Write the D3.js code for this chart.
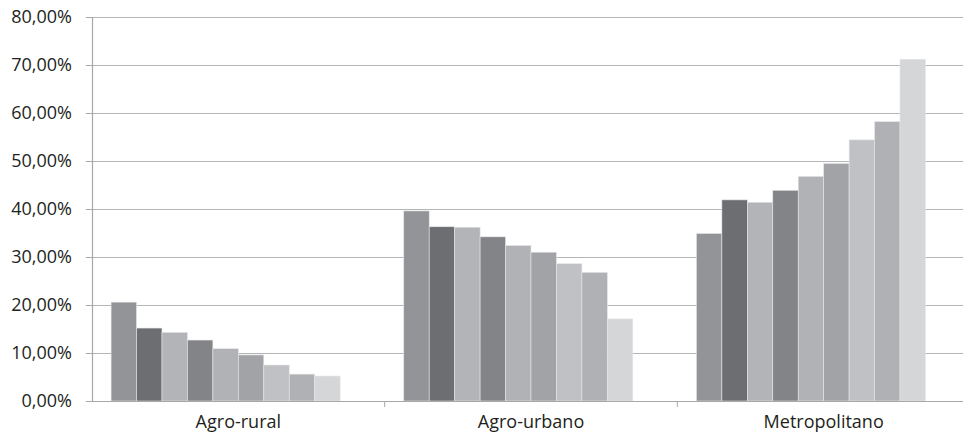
<!DOCTYPE html>
<html>
<head>
<meta charset="utf-8">
<script src="https://cdn.jsdelivr.net/npm/d3@7"></script>
<style>
  body { margin: 0; background: #fff; }
  svg text { font-family: "Open Sans", "Noto Sans", sans-serif; fill: #231f20; }
</style>
</head>
<body>
<div id="chart"></div>
<script>
const width = 963;
const height = 438;
const margins = {top: 17, right: -7, bottom: 37, left: 92};

// categories on the x axis
const categories = ['Agro-rural', 'Agro-urbano', 'Metropolitano'];
// 10 series slots per group (the last one is empty in the source)
const seriesKeys = ['s1', 's2', 's3', 's4', 's5', 's6', 's7', 's8', 's9', 's10'];
const seriesColors = ['#939498', '#6d6e71', '#b3b4b7', '#838487', '#b1b2b5',
                      '#a2a3a6', '#c0c1c4', '#b0b1b4', '#d5d6d8', '#e0e0e0'];

// values in percent, one array per category
const agroRural     = [20.6, 15.2, 14.3, 12.7, 10.9, 9.6, 7.5, 5.6, 5.2, null];
const agroUrbano    = [39.6, 36.3, 36.2, 34.2, 32.4, 31.0, 28.6, 26.8, 17.1, null];
const metropolitano = [34.9, 41.9, 41.4, 43.9, 46.8, 49.5, 54.4, 58.2, 71.2, null];
const groupValues = [agroRural, agroUrbano, metropolitano];

const yTicks = [0, 10, 20, 30, 40, 50, 60, 70, 80];

const graphWidth = width - margins.left - margins.right;
const graphHeight = height - margins.top - margins.bottom;

const svg = d3.select('#chart')
  .append('svg')
  .attr('width', width)
  .attr('height', height);

const g = svg.append('g')
  .attr('transform', `translate(${margins.left}, ${margins.top})`);

const x0 = d3.scaleBand()
  .domain(categories)
  .range([0, graphWidth]);

const x1 = d3.scaleBand()
  .domain(seriesKeys)
  .range([0, x0.bandwidth()])
  .paddingOuter(0.75);

const y = d3.scaleLinear()
  .domain([0, 80])
  .range([graphHeight, 0]);

// gridlines
g.append('g')
  .selectAll('line')
  .data(yTicks)
  .enter()
  .append('line')
  .attr('x1', 0)
  .attr('x2', graphWidth)
  .attr('y1', d => Math.round(y(d)) + 0.5)
  .attr('y2', d => Math.round(y(d)) + 0.5)
  .attr('stroke', '#b5b5b7')
  .attr('stroke-width', 1.2);

// bars
const groups = g.append('g')
  .selectAll('g')
  .data(categories)
  .enter()
  .append('g')
  .attr('transform', d => `translate(${x0(d)}, 0)`);

groups.selectAll('rect')
  .data((d, i) => groupValues[i].map((v, j) => ({key: seriesKeys[j], value: v, color: seriesColors[j]})))
  .enter()
  .filter(d => d.value != null)
  .append('rect')
  .attr('x', d => x1(d.key))
  .attr('width', x1.bandwidth())
  .attr('y', d => y(d.value))
  .attr('height', d => y(0) - y(d.value))
  .attr('fill', d => d.color)
  .attr('stroke', '#e6e6e8')
  .attr('stroke-width', 0.6);

// y axis
const yAxis = d3.axisLeft(y)
  .tickValues(yTicks)
  .tickSize(6)
  .tickPadding(14)
  .tickFormat(d => d3.format('.2f')(d).replace('.', ',') + '%');

const yAxisG = g.append('g').call(yAxis);
yAxisG.select('.domain').attr('stroke', '#a7a8ab').attr('stroke-width', 1.2);
yAxisG.selectAll('.tick line').attr('stroke', '#a7a8ab');
yAxisG.selectAll('.tick text').attr('font-size', '18px').attr('fill', '#231f20');

// x axis
const xAxis = d3.axisBottom(x0)
  .tickSize(0)
  .tickPadding(14);

const xAxisG = g.append('g')
  .attr('transform', `translate(0, ${graphHeight})`)
  .call(xAxis);
xAxisG.select('.domain').remove();
xAxisG.selectAll('.tick text').attr('font-size', '18px').attr('fill', '#231f20');

// category separators below the baseline
xAxisG.append('g')
  .selectAll('line')
  .data(categories.slice(1))
  .enter()
  .append('line')
  .attr('x1', d => x0(d))
  .attr('x2', d => x0(d))
  .attr('y1', 0)
  .attr('y2', 6)
  .attr('stroke', '#a7a8ab');

xAxisG.append('line')
  .attr('x1', 0)
  .attr('x2', graphWidth)
  .attr('y1', 0.5)
  .attr('y2', 0.5)
  .attr('stroke', '#a7a8ab')
  .attr('stroke-width', 1.2);
</script>
</body>
</html>
